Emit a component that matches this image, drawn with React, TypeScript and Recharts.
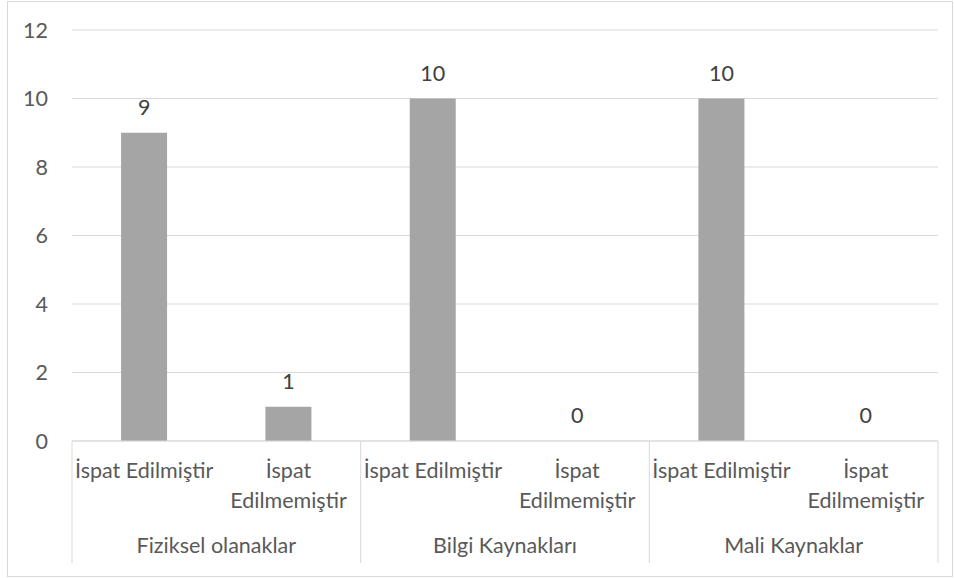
import React from 'react';
import {Bar, Line, XAxis, YAxis, CartesianGrid, LabelList, ComposedChart} from 'recharts';

const groups = ['Fiziksel olanaklar', 'Bilgi Kaynakları', 'Mali Kaynaklar'];
const subLabels = ['İspat Edilmiştir', 'İspat Edilmemiştir'];
const counts = [9, 1, 10, 0, 10, 0];
const yTicks = [0, 2, 4, 6, 8, 10, 12];

const data = counts.map((value, i) => ({
  key: `${i}`,
  group: groups[Math.floor(i / subLabels.length)],
  sub: subLabels[i % subLabels.length],
  value,
}));

const W = 954;
const H = 578;
const PLOT_LEFT = 72;
const PLOT_RIGHT = 938;
const PLOT_TOP = 30;
const PLOT_BOTTOM = 441;
const BAND = (PLOT_RIGHT - PLOT_LEFT) / data.length;
const FONT = 'Lato, sans-serif';
const FS = 21.5;
const TEXT = '#595959';
const LINE = '#D9D9D9';

// two-level category axis: sub label per bar, group label + separators per pair
const CategoryTick = (props: any) => {
  const {x, index} = props;
  const row = data[index];
  const words = row.sub.length > 16 ? row.sub.split(' ') : [row.sub];
  const isFirst = index % subLabels.length === 0;
  const isLast = index === data.length - 1;
  return (
    <g>
      {words.map((w: string, i: number) => (
        <text key={i} x={x} y={478 + i * 30} textAnchor="middle" fill={TEXT} fontSize={FS} fontFamily={FONT}>
          {w}
        </text>
      ))}
      {isFirst && (
        <>
          <line x1={x - BAND / 2} y1={PLOT_BOTTOM} x2={x - BAND / 2} y2={563} stroke={LINE} />
          <text x={x + BAND / 2} y={553} textAnchor="middle" fill={TEXT} fontSize={FS} fontFamily={FONT}>
            {row.group}
          </text>
        </>
      )}
      {isLast && <line x1={x + BAND / 2} y1={PLOT_BOTTOM} x2={x + BAND / 2} y2={563} stroke={LINE} />}
    </g>
  );
};

export default function App() {
  return (
    <div style={{position: 'absolute', left: 0, top: 0, width: W, height: H, background: '#fff'}}>
      <svg width={W} height={H} style={{position: 'absolute', left: 0, top: 0}}>
        <rect x={7.5} y={1.5} width={945} height={575} fill="#fff" stroke={LINE} />
      </svg>
      <div style={{position: 'absolute', left: 0, top: 0}}>
        <ComposedChart
          width={W}
          height={H}
          data={data}
          margin={{top: PLOT_TOP, right: W - PLOT_RIGHT, left: 0, bottom: 0}}
          barCategoryGap="34%">
          <CartesianGrid vertical={false} stroke={LINE} />
          <YAxis
            width={PLOT_LEFT}
            domain={[0, 12]}
            ticks={yTicks}
            axisLine={false}
            tickLine={false}
            tickMargin={18}
            tick={{fill: TEXT, fontSize: FS, fontFamily: FONT}}
          />
          <XAxis
            dataKey="key"
            height={H - PLOT_BOTTOM}
            axisLine={{stroke: LINE}}
            tickLine={false}
            interval={0}
            tick={<CategoryTick />}
          />
          <Bar dataKey="value" fill="#A5A5A5" isAnimationActive={false} />
          <Line dataKey="value" stroke="none" dot={false} activeDot={false} isAnimationActive={false}>
            <LabelList dataKey="value" position="top" offset={18} fill="#404040" fontSize={FS} fontFamily={FONT} />
          </Line>
        </ComposedChart>
      </div>
    </div>
  );
}
